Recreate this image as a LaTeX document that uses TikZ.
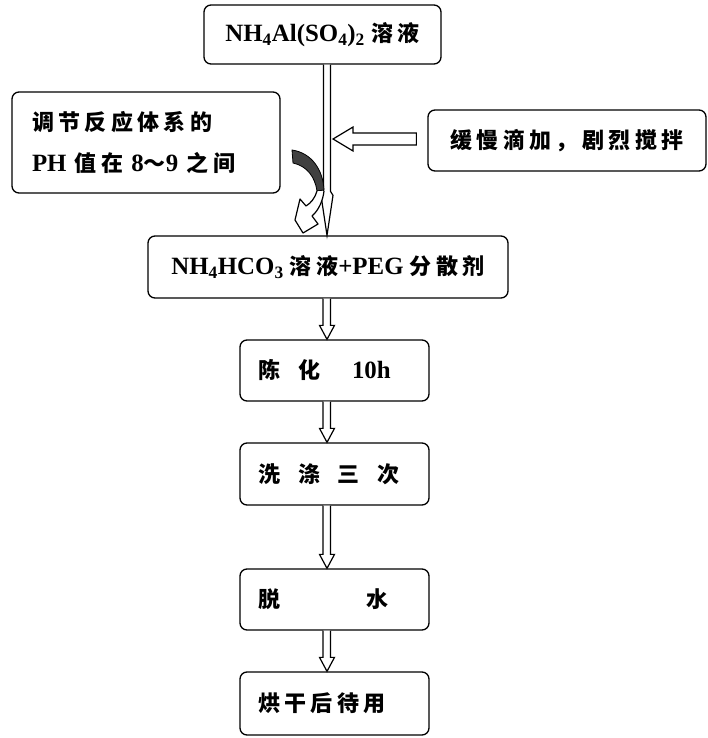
\documentclass[tikz,border=0pt]{standalone}
\usepackage{fontspec}
\setmainfont[Scale=1.13]{Liberation Serif}
\newfontfamily\cjkf[LetterSpace=20]{Noto Sans CJK SC}
\newcommand\C[1]{{\cjkf #1}}
\usetikzlibrary{calc}
\begin{document}
\begin{tikzpicture}[x=1pt,y=-1pt,
  box/.style={draw, line width=1.3pt, rounded corners=7pt, inner sep=0pt,
    font=\fontsize{22}{26}\selectfont\bfseries},
  lbox/.style={box, inner xsep=18pt, text width=153pt, align=left,
    minimum width=189pt},
  hollow/.style={draw, fill=white, line width=1.2pt, line join=miter}
  ]
\useasboundingbox (0,0) rectangle (708,738);
% boxes
\node[box, minimum width=237pt, minimum height=59pt] (b1) at (322.5,34.5)
  {NH\textsubscript{4}Al(SO\textsubscript{4})\textsubscript{2} \C{溶液}};
\node[box, minimum width=268pt, minimum height=101pt, inner xsep=20pt,
  text width=228pt, align=left, font=\fontsize{22}{41}\selectfont\bfseries]
  (lb) at (146,142.5)
  {\C{调节反应体系的}\\PH \C{值在} 8\C{～}9 \C{之间}};
\node[box, minimum width=278pt, minimum height=61pt] (rb) at (567,140.5)
  {\C{缓慢滴加，剧烈搅拌}};
\node[box, minimum width=360pt, minimum height=62pt] (b2) at (328,267)
  {NH\textsubscript{4}HCO\textsubscript{3} \C{溶液}+PEG \C{分散剂}};
\node[lbox, minimum height=61pt] (b3) at (334.5,370.5)
  {\C{陈}\hspace{18pt}\C{化}\hspace{32pt}10h};
\node[lbox, minimum height=62pt] (b4) at (334.5,474)
  {\C{洗}\hspace{18pt}\C{涤}\hspace{18pt}\C{三}\hspace{18pt}\C{次}};
\node[lbox, minimum height=61pt] (b5) at (334.5,599.5)
  {\C{脱}\hspace{86pt}\C{水}};
\node[lbox, minimum height=63pt] (b6) at (334.5,703.5)
  {\C{烘干后待用}};
% long arrow b1 -> b2
\path let \p1=(b1.south), \p2=(b2.north) in
  [hollow] (323.5,\y1) -- (323.5,{\y2+44pt}) -- (321,{\y2+40pt}) -- (327,\y2)
  -- (333,{\y2+40pt}) -- (330.5,{\y2+44pt}) -- (330.5,\y1);
% short double arrows
\foreach \a/\b in {b2/b3, b3/b4, b4/b5, b5/b6}{
  \path let \p1=(\a.south), \p2=(\b.north) in
    [hollow] (323,\y1) -- (323,{\y2+14pt}) -- (319.5,{\y2+14pt}) -- (327,\y2)
    -- (334.5,{\y2+14pt}) -- (330.5,{\y2+14pt}) -- (330.5,\y1);
}
% feeding arrow from right box
\coordinate (feedtip) at (333,139);
\path let \p1=(rb.west), \p2=(feedtip) in
  [hollow] ({\x1-11pt},{\y2+6pt}) -- ({\x2+20pt},{\y2+6pt}) -- ({\x2+20pt},{\y2+12pt})
  -- (\x2,\y2) -- ({\x2+20pt},{\y2-12pt}) -- ({\x2+20pt},{\y2-6pt})
  -- ({\x1-11pt},{\y2-6pt}) -- cycle;
% curved arrow
\filldraw[black!75, draw=black, line width=0.8pt]
  (292,150) .. controls (312,153) and (323,170) .. (324,190)
  -- (317,191) .. controls (315,177) and (307,166) .. (293,163) -- cycle;
\draw[hollow, line join=round]
  (317,191) .. controls (315,198) and (311,203) .. (306,206)
  -- (300,199) -- (295,220) -- (303,233) -- (318,224) -- (312,216)
  .. controls (319,210) and (323,200) .. (324,191);
\end{tikzpicture}
\end{document}
